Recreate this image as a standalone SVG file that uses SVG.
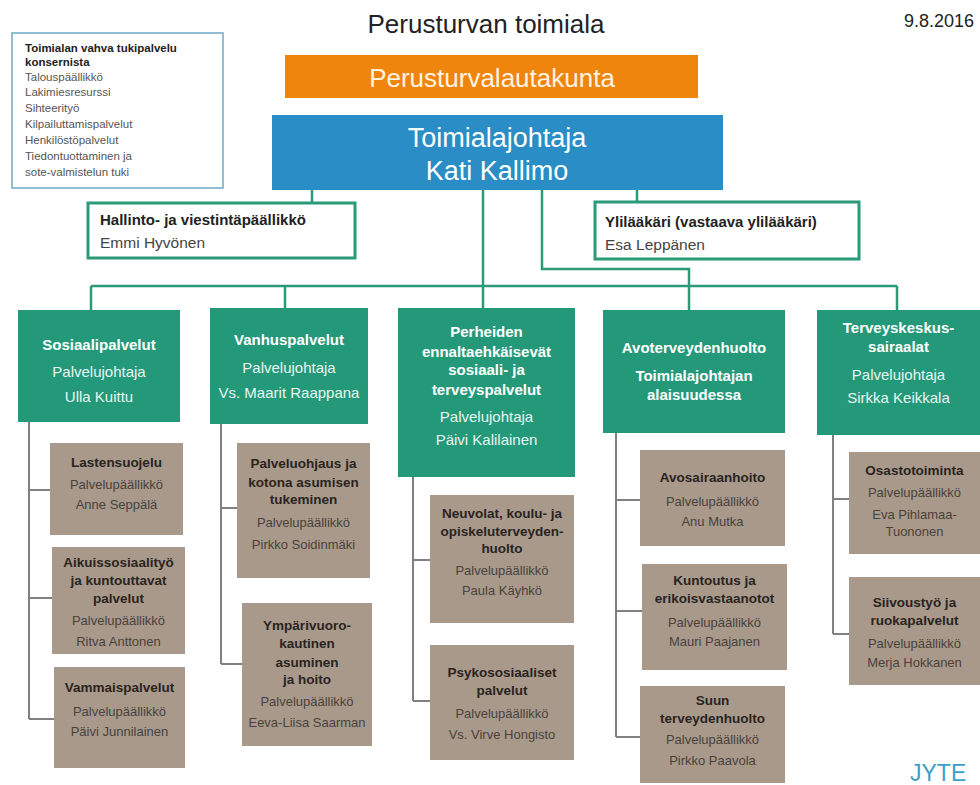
<svg xmlns="http://www.w3.org/2000/svg" width="980" height="785" viewBox="0 0 980 785">
<style>
text{font-family:"Liberation Sans",Arial,sans-serif}
.c{text-anchor:middle}
.green{fill:#24997a}
.tan{fill:#a8998b}
.ct{font-size:15px;font-weight:bold;fill:#ffffff}
.cr{font-size:15px;fill:#e8f5f0}
.st{font-size:13.5px;font-weight:bold;fill:#2a2420}
.sr{font-size:13px;fill:#4a423b}
.staff{fill:#ffffff;stroke:#2a9a78;stroke-width:3}
.sb{font-size:15px;font-weight:bold;fill:#222222}
.sn{font-size:15.5px;fill:#444444}
.tb{font-size:11.5px;font-weight:bold;fill:#222222}
.tr{font-size:11.5px;fill:#555555}
.lg{fill:none;stroke:#2a9a7a;stroke-width:2.5}
.lh{fill:none;stroke:#808080;stroke-width:2}
</style>
<rect width="980" height="785" fill="#ffffff"/>

<g id="title">
<text x="486" y="33" class="c" font-size="26" fill="#222222">Perusturvan toimiala</text>
<text x="939" y="27" class="c" font-size="18" fill="#222222">9.8.2016</text>
</g>

<g id="tukipalvelu">
<rect x="12" y="33" width="211" height="155" fill="#ffffff" stroke="#6fa8c4" stroke-width="1.5"/>
<text x="25" y="52" class="tb">Toimialan vahva tukipalvelu</text>
<text x="25" y="66" class="tb">konsernista</text>
<text x="25" y="81" class="tr">Talouspäällikkö</text>
<text x="25" y="96" class="tr">Lakimiesresurssi</text>
<text x="25" y="112" class="tr">Sihteerityö</text>
<text x="25" y="128" class="tr">Kilpailuttamispalvelut</text>
<text x="25" y="144" class="tr">Henkilöstöpalvelut</text>
<text x="25" y="160" class="tr">Tiedontuottaminen ja</text>
<text x="25" y="176" class="tr">sote-valmistelun tuki</text>
</g>

<g id="connectors">
<path class="lg" d="M312 190V203M637 190V202M483 190V309M542 190V269H689V310M91 286H897M91 286V310M285 286V309M897 286V310"/>
<path class="lh" d="M29 422V719M29 490H50M29 598H52M29 719H54"/>
<path class="lh" d="M221 424V664M221 508H237M221 664H242"/>
<path class="lh" d="M413 477V701M413 560H430M413 701H430"/>
<path class="lh" d="M616 433V737M616 500H640M616 611H642M616 737H640"/>
<path class="lh" d="M833 435V634M833 499H849M833 634H849"/>
</g>

<g id="lautakunta">
<rect x="285" y="55" width="413" height="43" fill="#f0850e"/>
<text x="492" y="87" class="c" font-size="26" fill="#fff3e2">Perusturvalautakunta</text>
</g>

<g id="toimialajohtaja">
<rect x="272" y="115" width="451" height="75" fill="#2b8dc5"/>
<text x="497" y="147" class="c" font-size="27" fill="#ffffff">Toimialajohtaja</text>
<text x="497" y="180" class="c" font-size="27" fill="#ffffff">Kati Kallimo</text>
</g>

<g id="hallinto">
<rect class="staff" x="88" y="203" width="267" height="55"/>
<text x="100" y="225" class="sb">Hallinto- ja viestintäpäällikkö</text>
<text x="100" y="248" class="sn">Emmi Hyvönen</text>
</g>

<g id="ylilaakari">
<rect class="staff" x="595" y="202" width="264" height="57"/>
<text x="605" y="227" class="sb">Ylilääkäri (vastaava ylilääkäri)</text>
<text x="605" y="250" class="sn">Esa Leppänen</text>
</g>

<g id="sosiaalipalvelut">
<rect class="green" x="18" y="310" width="162" height="112"/>
<text x="99" y="350" class="c ct">Sosiaalipalvelut</text>
<text x="99" y="377" class="c cr">Palvelujohtaja</text>
<text x="99" y="402" class="c cr">Ulla Kuittu</text>
</g>

<g id="vanhuspalvelut">
<rect class="green" x="210" y="308" width="158" height="116"/>
<text x="289" y="345" class="c ct">Vanhuspalvelut</text>
<text x="289" y="373" class="c cr">Palvelujohtaja</text>
<text x="289" y="398" class="c cr">Vs. Maarit Raappana</text>
</g>

<g id="perheiden">
<rect class="green" x="398" y="308" width="177" height="169"/>
<text x="486.5" y="337" class="c ct">Perheiden</text>
<text x="486.5" y="357" class="c ct">ennaltaehkäisevät</text>
<text x="486.5" y="375" class="c ct">sosiaali-  ja</text>
<text x="486.5" y="395" class="c ct">terveyspalvelut</text>
<text x="486.5" y="422" class="c cr">Palvelujohtaja</text>
<text x="486.5" y="445" class="c cr">Päivi Kalilainen</text>
</g>

<g id="avoterveydenhuolto">
<rect class="green" x="603" y="310" width="182" height="123"/>
<text x="694" y="353" class="c ct">Avoterveydenhuolto</text>
<text x="694" y="381" class="c ct">Toimialajohtajan</text>
<text x="694" y="400" class="c ct">alaisuudessa</text>
</g>

<g id="terveyskeskus">
<rect class="green" x="817" y="310" width="163" height="125"/>
<text x="898.5" y="333" class="c ct">Terveyskeskus-</text>
<text x="898.5" y="352" class="c ct">sairaalat</text>
<text x="898.5" y="380" class="c cr">Palvelujohtaja</text>
<text x="898.5" y="403" class="c cr">Sirkka Keikkala</text>
</g>

<g id="lastensuojelu">
<rect class="tan" x="50" y="443" width="133" height="92"/>
<text x="116.5" y="467" class="c st">Lastensuojelu</text>
<text x="116.5" y="489" class="c sr">Palvelupäällikkö</text>
<text x="116.5" y="509" class="c sr">Anne Seppälä</text>
</g>

<g id="aikuissosiaalityo">
<rect class="tan" x="52" y="547" width="133" height="107"/>
<text x="118.5" y="567" class="c st">Aikuissosiaalityö</text>
<text x="118.5" y="585" class="c st">ja kuntouttavat</text>
<text x="118.5" y="603" class="c st">palvelut</text>
<text x="118.5" y="625" class="c sr">Palvelupäällikkö</text>
<text x="118.5" y="646" class="c sr">Ritva Anttonen</text>
</g>

<g id="vammaispalvelut">
<rect class="tan" x="54" y="667" width="131" height="101"/>
<text x="119.5" y="692" class="c st">Vammaispalvelut</text>
<text x="119.5" y="716" class="c sr">Palvelupäällikkö</text>
<text x="119.5" y="736" class="c sr">Päivi Junnilainen</text>
</g>

<g id="palveluohjaus">
<rect class="tan" x="237" y="443" width="133" height="135"/>
<text x="303.5" y="468" class="c st">Palveluohjaus ja</text>
<text x="303.5" y="487" class="c st">kotona asumisen</text>
<text x="303.5" y="504" class="c st">tukeminen</text>
<text x="303.5" y="527" class="c sr">Palvelupäällikkö</text>
<text x="303.5" y="549" class="c sr">Pirkko Soidinmäki</text>
</g>

<g id="ymparivuorokautinen">
<rect class="tan" x="242" y="603" width="130" height="143"/>
<text x="307" y="630" class="c st">Ympärivuoro-</text>
<text x="307" y="648" class="c st">kautinen</text>
<text x="307" y="667" class="c st">asuminen</text>
<text x="307" y="684" class="c st">ja hoito</text>
<text x="307" y="706" class="c sr">Palvelupäällikkö</text>
<text x="307" y="727" class="c sr">Eeva-Liisa Saarman</text>
</g>

<g id="neuvolat">
<rect class="tan" x="430" y="495" width="144" height="128"/>
<text x="502" y="518" class="c st">Neuvolat, koulu- ja</text>
<text x="502" y="536" class="c st">opiskeluterveyden-</text>
<text x="502" y="553" class="c st">huolto</text>
<text x="502" y="575" class="c sr">Palvelupäällikkö</text>
<text x="502" y="595" class="c sr">Paula Käyhkö</text>
</g>

<g id="psykososiaaliset">
<rect class="tan" x="430" y="645" width="144" height="115"/>
<text x="502" y="677" class="c st">Psykososiaaliset</text>
<text x="502" y="695" class="c st">palvelut</text>
<text x="502" y="718" class="c sr">Palvelupäällikkö</text>
<text x="502" y="739" class="c sr">Vs. Virve Hongisto</text>
</g>

<g id="avosairaanhoito">
<rect class="tan" x="640" y="450" width="145" height="96"/>
<text x="712.5" y="482" class="c st">Avosairaanhoito</text>
<text x="712.5" y="506" class="c sr">Palvelupäällikkö</text>
<text x="712.5" y="526" class="c sr">Anu Mutka</text>
</g>

<g id="kuntoutus">
<rect class="tan" x="642" y="564" width="145" height="106"/>
<text x="714.5" y="585" class="c st">Kuntoutus ja</text>
<text x="714.5" y="603" class="c st">erikoisvastaanotot</text>
<text x="714.5" y="627" class="c sr">Palvelupäällikkö</text>
<text x="714.5" y="646" class="c sr">Mauri Paajanen</text>
</g>

<g id="suun">
<rect class="tan" x="640" y="686" width="145" height="97"/>
<text x="712.5" y="705" class="c st">Suun</text>
<text x="712.5" y="723" class="c st">terveydenhuolto</text>
<text x="712.5" y="744" class="c sr">Palvelupäällikkö</text>
<text x="712.5" y="765" class="c sr">Pirkko Paavola</text>
</g>

<g id="osastotoiminta">
<rect class="tan" x="849" y="452" width="131" height="102"/>
<text x="914.5" y="475" class="c st">Osastotoiminta</text>
<text x="914.5" y="497" class="c sr">Palvelupäällikkö</text>
<text x="914.5" y="519" class="c sr">Eva Pihlamaa-</text>
<text x="914.5" y="536" class="c sr">Tuononen</text>
</g>

<g id="siivoustyo">
<rect class="tan" x="849" y="577" width="131" height="108"/>
<text x="914.5" y="607" class="c st">Siivoustyö ja</text>
<text x="914.5" y="625" class="c st">ruokapalvelut</text>
<text x="914.5" y="648" class="c sr">Palvelupäällikkö</text>
<text x="914.5" y="667" class="c sr">Merja Hokkanen</text>
</g>

<g id="jyte">
<text x="910" y="781" font-size="23" fill="#3a9fc6">JYTE</text>
</g>
</svg>
